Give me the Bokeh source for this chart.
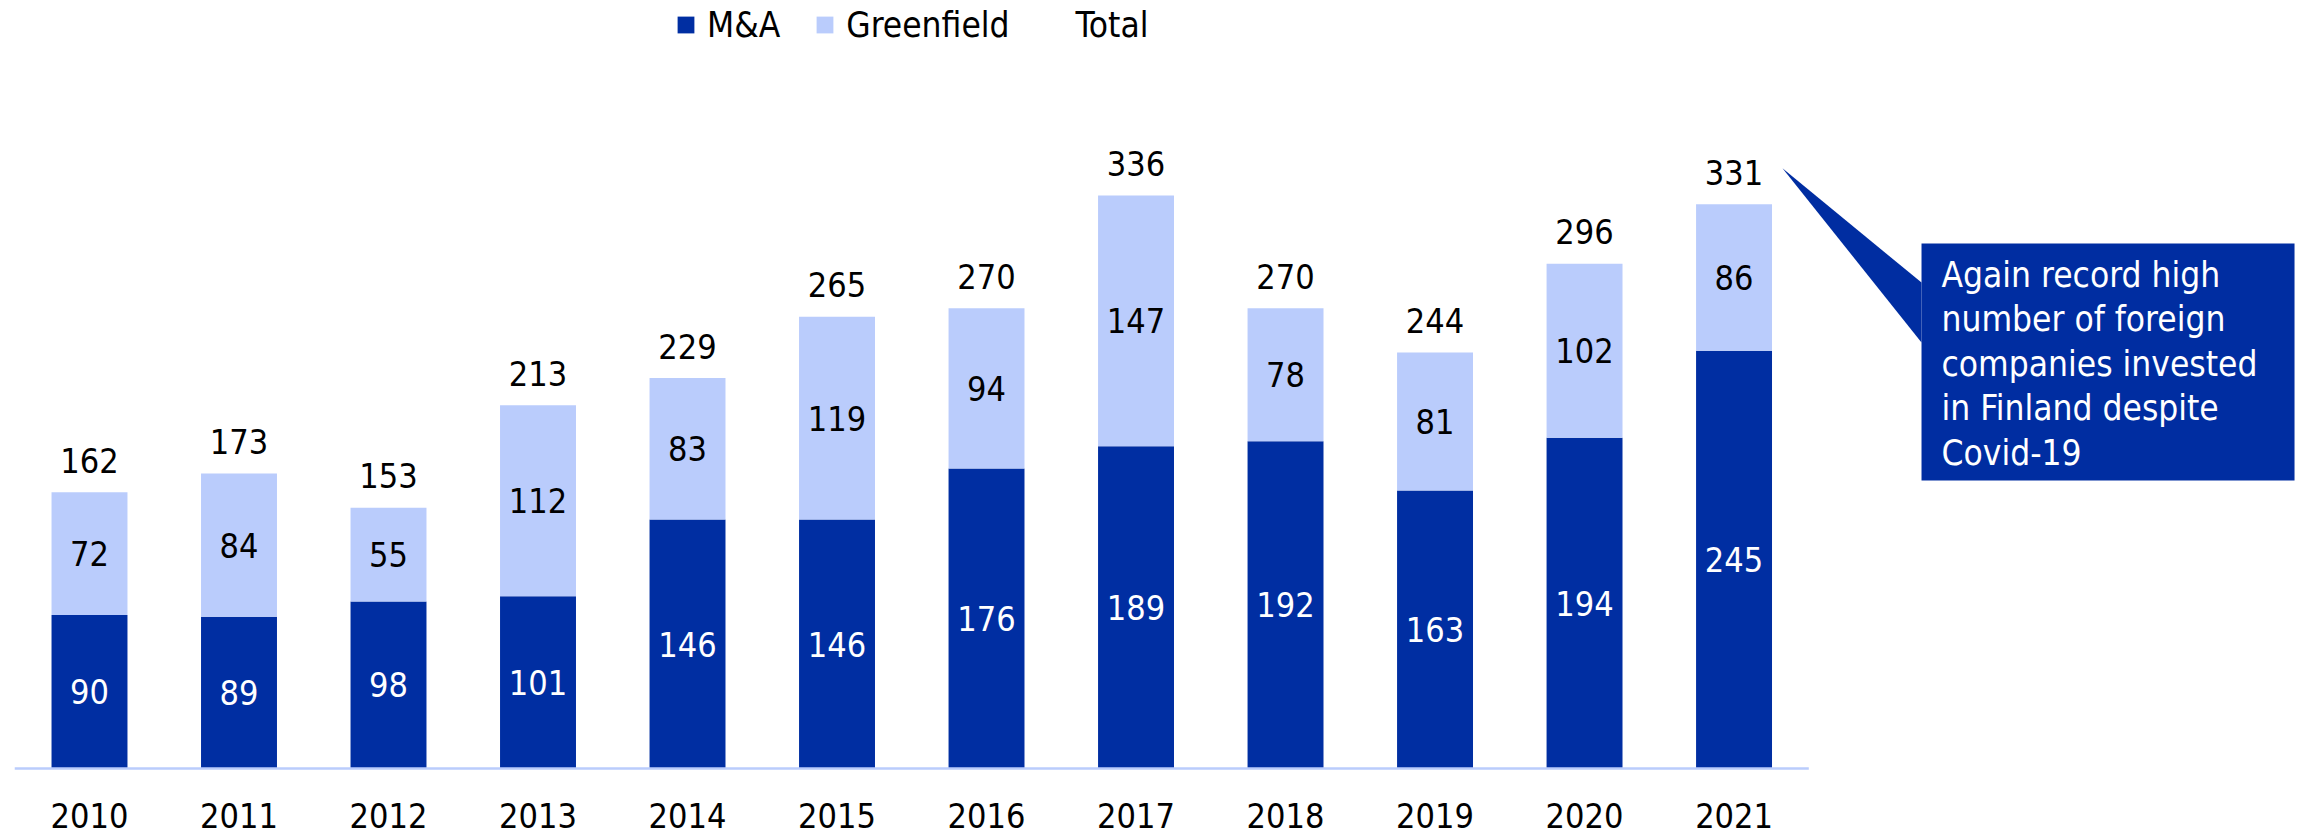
from bokeh.plotting import figure
from bokeh.models import ColumnDataSource, Range1d, Legend, LegendItem
from bokeh.core.properties import value
from bokeh.embed import file_html
from bokeh.resources import INLINE

# ---- data ----
years = ["2010", "2011", "2012", "2013", "2014", "2015",
         "2016", "2017", "2018", "2019", "2020", "2021"]
ma = [90, 89, 98, 101, 146, 146, 176, 189, 192, 163, 194, 245]
greenfield = [72, 84, 55, 112, 83, 119, 94, 147, 78, 81, 102, 86]
totals = [162, 173, 153, 213, 229, 265, 270, 336, 270, 244, 296, 331]
series_names = ["M&A", "Greenfield", "Total"]
note_lines = ["Again record high", "number of foreign", "companies invested",
              "in Finland despite", "Covid-19"]

# ---- styles ----
MA_COLOR = "#002EA2"
GF_COLOR = "#BACCFC"
BOX_COLOR = "#002DA1"
FONT = "DejaVu Sans Condensed"
NUM_SIZE = "34px"
TXT_SIZE = "35px"

x = list(range(len(years)))
src = ColumnDataSource(dict(
    x=x,
    year=years,
    zero=[0] * len(x),
    ma=ma,
    gf=greenfield,
    total=totals,
    ma_mid=[m / 2 for m in ma],
    gf_mid=[m + g / 2 for m, g in zip(ma, greenfield)],
    ma_lbl=[str(v) for v in ma],
    gf_lbl=[str(v) for v in greenfield],
    tot_lbl=[str(v) for v in totals],
))

p = figure(width=2303, height=836,
           x_range=Range1d(-0.5953, 14.809), y_range=Range1d(-39.88, 450.44),
           output_backend="svg", toolbar_location=None,
           x_axis_location=None, y_axis_location=None,
           min_border=0, outline_line_color=None,
           background_fill_color="white", border_fill_color="white")
p.xgrid.visible = False
p.ygrid.visible = False

bars = p.vbar_stack(["ma", "gf"], x="x", width=0.508, source=src,
                    fill_color=[MA_COLOR, GF_COLOR], line_color=None)

# baseline (category axis line) under the bars
p.segment(x0=[x[0] - 0.5], y0=[0], x1=[x[-1] + 0.5], y1=[0],
          line_color=GF_COLOR, line_width=2.5)

# category labels below the baseline
p.text(x="x", y="zero", text="year", source=src, text_align="center",
       text_baseline="middle", y_offset=47, text_color="black",
       text_font=value(FONT), text_font_size=NUM_SIZE)

# segment labels
p.text(x="x", y="ma_mid", text="ma_lbl", source=src, text_align="center",
       text_baseline="middle", text_color="white",
       text_font=value(FONT), text_font_size=NUM_SIZE)
p.text(x="x", y="gf_mid", text="gf_lbl", source=src, text_align="center",
       text_baseline="middle", text_color="black",
       text_font=value(FONT), text_font_size=NUM_SIZE)
p.text(x="x", y="total", text="tot_lbl", source=src, text_align="center",
       text_baseline="middle", y_offset=-32, text_color="black",
       text_font=value(FONT), text_font_size=NUM_SIZE)

# callout annotation pointing at the last bar's total
last = x[-1]
box_left, box_right = last + 1.254, last + 3.749
box_top, box_bottom = 307.9, 168.9
tip_x, tip_y = last + 0.324, totals[-1] + 21
p.patch(x=[tip_x, box_left, box_left], y=[tip_y, 285.0, 249.9],
        fill_color=BOX_COLOR, line_color=None)
p.quad(left=[box_left], right=[box_right], top=[box_top], bottom=[box_bottom],
       fill_color=BOX_COLOR, line_color=None)
p.text(x=[box_left] * len(note_lines), y=[box_top] * len(note_lines),
       text=note_lines, x_offset=20,
       y_offset=[31 + 44.5 * k for k in range(len(note_lines))],
       text_align="left", text_baseline="middle", text_color="white",
       text_font=value(FONT), text_font_size=TXT_SIZE)

# legend
dummy = p.vbar(x=[], top=[], width=0.5, fill_alpha=0, line_alpha=0)
legend = Legend(items=[LegendItem(label=series_names[0], renderers=[bars[0]]),
                       LegendItem(label=series_names[1], renderers=[bars[1]]),
                       LegendItem(label=series_names[2], renderers=[dummy])],
                orientation="horizontal", location=(675, 791),
                glyph_width=21, glyph_height=21, label_standoff=11, spacing=34,
                padding=0, margin=0, border_line_color=None,
                background_fill_alpha=0, label_height=41,
                label_text_font=FONT, label_text_font_size=TXT_SIZE,
                label_text_color="black")
p.add_layout(legend, "center")

open("out.html", "w").write(file_html(p, INLINE))
